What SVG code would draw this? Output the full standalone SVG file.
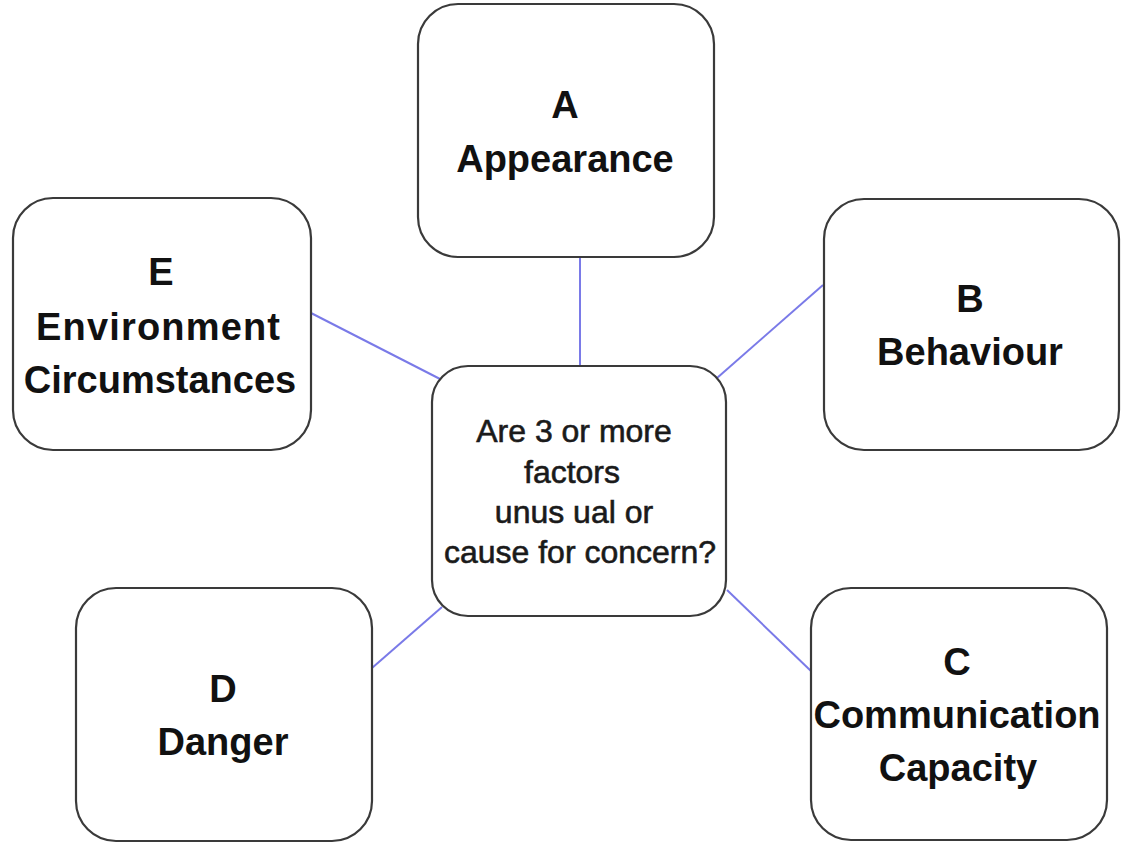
<svg xmlns="http://www.w3.org/2000/svg" width="1127" height="843" viewBox="0 0 1127 843">
<style>
.box{fill:#fff;stroke:#3a3a3a;stroke-width:2.2}
.lbl{font-family:"Liberation Sans",Arial,sans-serif;font-size:38px;font-weight:bold;fill:#111;text-anchor:middle}
.q{font-family:"Liberation Sans",Arial,sans-serif;font-size:32px;fill:#1a1a1a;stroke:#1a1a1a;stroke-width:0.6;text-anchor:middle}
.con{stroke:#7a7ae8;stroke-width:2;fill:none}
</style>
<rect width="1127" height="843" fill="#fff"/>
<g id="connectors">
<line class="con" x1="580" y1="257" x2="580" y2="366"/>
<line class="con" x1="311" y1="313" x2="442" y2="380"/>
<line class="con" x1="823" y1="285" x2="717" y2="378"/>
<line class="con" x1="372" y1="668" x2="442" y2="607"/>
<line class="con" x1="727" y1="590" x2="812" y2="672"/>
</g>
<g id="nodeA">
<rect class="box" x="418" y="4" width="296" height="253" rx="40"/>
<text class="lbl" x="565" y="118">A</text>
<text class="lbl" x="565" y="172">Appearance</text>
</g>
<g id="nodeB">
<rect class="box" x="824" y="199" width="295" height="251" rx="40"/>
<text class="lbl" x="970" y="312">B</text>
<text class="lbl" x="970" y="365">Behaviour</text>
</g>
<g id="nodeC">
<rect class="box" x="811" y="588" width="296" height="252" rx="40"/>
<text class="lbl" x="957" y="675">C</text>
<text class="lbl" x="957" y="728">Communication</text>
<text class="lbl" x="958" y="781">Capacity</text>
</g>
<g id="nodeD">
<rect class="box" x="76" y="588" width="296" height="253" rx="40"/>
<text class="lbl" x="223" y="702">D</text>
<text class="lbl" x="223" y="755">Danger</text>
</g>
<g id="nodeE">
<rect class="box" x="13" y="198" width="298" height="252" rx="40"/>
<text class="lbl" x="161" y="285">E</text>
<text class="lbl" x="158" y="340" textLength="244">Environment</text>
<text class="lbl" x="160" y="393">Circumstances</text>
</g>
<g id="center">
<rect class="box" x="432" y="366" width="294" height="250" rx="36"/>
<text class="q" x="574" y="442">Are 3 or more</text>
<text class="q" x="572" y="483">factors</text>
<text class="q" x="574" y="523">unus ual or</text>
<text class="q" x="580" y="563">cause for concern?</text>
</g>
</svg>
